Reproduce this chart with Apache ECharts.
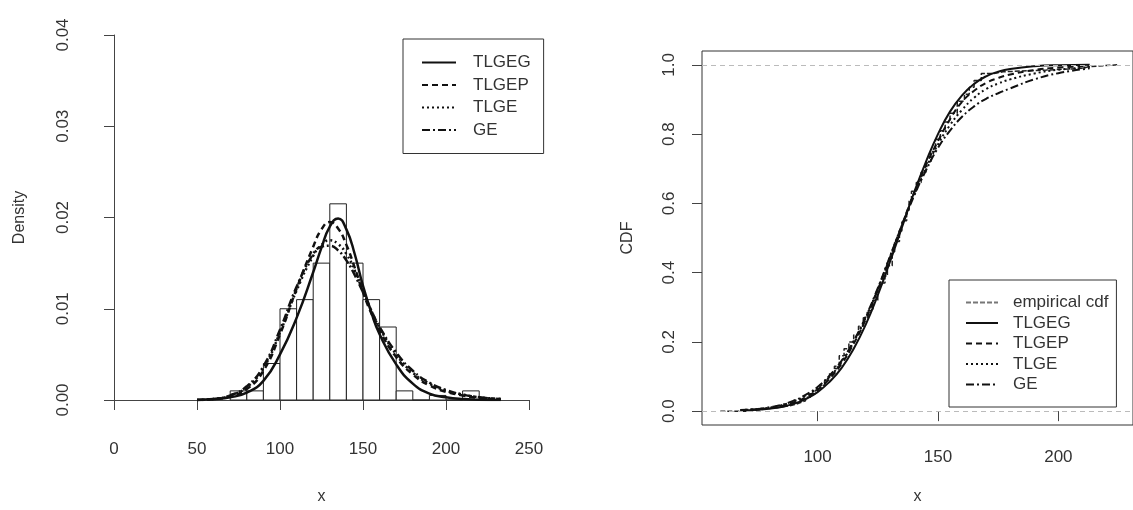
<!DOCTYPE html>
<html>
<head>
<meta charset="utf-8">
<title>density / cdf</title>
<script src="https://cdn.jsdelivr.net/npm/echarts@6/dist/echarts.min.js"></script>
<style>
  html, body { margin: 0; padding: 0; background: #fff; }
  #main { width: 1133px; height: 510px; }
</style>
</head>
<body>
<div id="main"></div>
<script>
// histogram: bin edges and density of each bin
var histBreaks = [70, 80, 90, 100, 110, 120, 130, 140, 150, 160, 170, 180, 190, 200, 210, 220];
var histDensity = [0.001, 0.001, 0.004, 0.010, 0.011, 0.015, 0.0215, 0.015, 0.011, 0.008, 0.001, 0, 0.0005, 0, 0.001];

// fitted densities (left panel)
var densX = [50, 60, 70, 80, 90, 100, 110, 120, 125, 130, 135, 140, 145, 150, 155, 160, 170, 180, 190, 200, 210, 220, 233];
var densTLGEG = [0, 0.0001, 0.0003, 0.0008, 0.0021, 0.0050, 0.0090, 0.0140, 0.0167, 0.0190, 0.0199, 0.0187, 0.0160, 0.0125, 0.0096, 0.0072, 0.0039, 0.0018, 0.0007, 0.0003, 0.0001, 0.00003, 0];
var densTLGEP = [0, 0.0001, 0.0004, 0.0012, 0.0032, 0.0072, 0.0122, 0.0168, 0.0187, 0.0195, 0.0188, 0.0170, 0.0145, 0.0118, 0.0095, 0.0076, 0.0047, 0.0028, 0.0016, 0.0009, 0.0005, 0.0002, 0.0001];
var densTLGE = [0, 0.0001, 0.0005, 0.0014, 0.0035, 0.0074, 0.0120, 0.0158, 0.0170, 0.0175, 0.0171, 0.0160, 0.0142, 0.0120, 0.0098, 0.0079, 0.0050, 0.0030, 0.0018, 0.0010, 0.0006, 0.0003, 0.0001];
var densGE = [0, 0.0001, 0.0005, 0.0015, 0.0037, 0.0077, 0.0124, 0.0160, 0.0168, 0.0169, 0.0164, 0.0153, 0.0137, 0.0118, 0.0098, 0.0080, 0.0052, 0.0032, 0.0019, 0.0011, 0.0006, 0.0003, 0.0001];

// empirical cdf steps (right panel)
var ecdfX = [59.6, 71, 77, 83, 88, 91, 93, 95, 97, 99, 101, 103, 105, 107, 109, 111, 113, 115, 117, 119, 121, 123, 125, 126, 128, 129, 131, 132, 134, 135, 137, 138, 139, 141, 143, 145, 147, 149, 151, 153, 155, 158, 161, 163, 165, 168, 173, 177, 195, 210, 213, 224.4];
var ecdfY = [0, 0.005, 0.01, 0.015, 0.02, 0.025, 0.03, 0.04, 0.05, 0.06, 0.075, 0.09, 0.11, 0.13, 0.16, 0.18, 0.2, 0.22, 0.245, 0.27, 0.29, 0.32, 0.35, 0.37, 0.39, 0.42, 0.46, 0.49, 0.52, 0.55, 0.58, 0.61, 0.635, 0.66, 0.69, 0.72, 0.75, 0.785, 0.81, 0.835, 0.86, 0.895, 0.915, 0.935, 0.955, 0.975, 0.98, 0.985, 0.99, 0.995, 1.0, 1.0];

// fitted cdfs (right panel)
var cdfX = [68, 75, 80, 85, 90, 95, 100, 105, 110, 115, 120, 125, 130, 135, 140, 145, 150, 155, 160, 165, 170, 175, 180, 190, 200, 213];
var cdfTLGEG = [0.002, 0.004, 0.007, 0.012, 0.021, 0.035, 0.055, 0.085, 0.125, 0.18, 0.25, 0.335, 0.43, 0.53, 0.63, 0.72, 0.80, 0.865, 0.912, 0.945, 0.967, 0.98, 0.988, 0.996, 0.999, 1.0];
var cdfTLGEP = [0.003, 0.006, 0.009, 0.015, 0.025, 0.04, 0.062, 0.094, 0.137, 0.195, 0.265, 0.35, 0.443, 0.537, 0.628, 0.71, 0.78, 0.843, 0.893, 0.925, 0.948, 0.962, 0.972, 0.985, 0.992, 0.996];
var cdfTLGE = [0.003, 0.006, 0.01, 0.017, 0.028, 0.044, 0.067, 0.099, 0.142, 0.2, 0.27, 0.353, 0.445, 0.537, 0.625, 0.703, 0.77, 0.826, 0.87, 0.905, 0.93, 0.946, 0.958, 0.975, 0.986, 0.993];
var cdfGE = [0.003, 0.006, 0.011, 0.018, 0.03, 0.047, 0.07, 0.103, 0.146, 0.203, 0.273, 0.355, 0.445, 0.535, 0.62, 0.695, 0.76, 0.81, 0.85, 0.88, 0.902, 0.918, 0.932, 0.958, 0.976, 0.99];

// tick labels
var densXTicks = [0, 50, 100, 150, 200, 250];
var densYTicks = [0, 0.01, 0.02, 0.03, 0.04];
var cdfXTicks = [100, 150, 200];
var cdfYTicks = [0, 0.2, 0.4, 0.6, 0.8, 1.0];

var FONT = 'Liberation Sans, Arial, Helvetica, sans-serif';
var AX = '#444';
var TXT = '#333';

function pairs(xs, ys) {
    var out = [];
    for (var i = 0; i < xs.length; i++) out.push([xs[i], ys[i]]);
    return out;
}

function histData() {
    var out = [];
    for (var i = 0; i < histDensity.length; i++) {
        out.push([histBreaks[i], histBreaks[i + 1], histDensity[i]]);
    }
    return out;
}

// each bin drawn as a rect from the axis scales
function renderBin(params, api) {
    var p0 = api.coord([api.value(0), api.value(2)]);
    var p1 = api.coord([api.value(1), 0]);
    return {
        type: 'rect',
        shape: { x: p0[0], y: p0[1], width: p1[0] - p0[0], height: p1[1] - p0[1] },
        style: { fill: '#fff', stroke: '#222', lineWidth: 1 }
    };
}

function lineSeries(name, data, dash, width, xi, yi, smooth, color) {
    return {
        name: name,
        type: 'line',
        xAxisIndex: xi,
        yAxisIndex: yi,
        data: data,
        smooth: smooth,
        showSymbol: false,
        symbol: 'circle',
        silent: true,
        lineStyle: { color: color || '#111', width: width, type: dash },
        itemStyle: { color: color || '#111' },
        z: 3
    };
}

var dashes = ['solid', [6, 4], [2, 3], [8, 3, 2, 3]];

var axisText = { color: TXT, fontSize: 17, fontFamily: FONT };
var nameText = { color: TXT, fontSize: 16, fontFamily: FONT };

var option = {
    animation: false,
    backgroundColor: '#fff',
    textStyle: { fontFamily: FONT },
    grid: [
        { left: 114, top: 35, width: 415, height: 369, show: false },
        { left: 702, top: 51, width: 444, height: 377, show: true, borderColor: '#333', borderWidth: 1, backgroundColor: 'transparent' }
    ],
    xAxis: [
        {
            type: 'value', gridIndex: 0, min: 0, max: 250, interval: 50, offset: 17,
            axisLine: { show: true, lineStyle: { color: AX, width: 1 } },
            axisTick: { show: true, inside: false, length: 10, lineStyle: { color: AX } },
            axisLabel: Object.assign({ margin: 24, customValues: densXTicks }, axisText),
            splitLine: { show: false },
            name: 'x', nameLocation: 'middle', nameGap: 72,
            nameTextStyle: nameText
        },
        {
            type: 'value', gridIndex: 1, min: 52, max: 231,
            axisLine: { show: false },
            axisTick: { show: true, inside: false, length: 10, customValues: cdfXTicks, lineStyle: { color: AX } },
            axisLabel: Object.assign({ margin: 24, customValues: cdfXTicks }, axisText),
            splitLine: { show: false },
            name: 'x', nameLocation: 'middle', nameGap: 64,
            nameTextStyle: nameText
        }
    ],
    yAxis: [
        {
            type: 'value', gridIndex: 0, min: 0, max: 0.04, interval: 0.01, offset: 18,
            axisLine: { show: true, lineStyle: { color: AX, width: 1 } },
            axisTick: { show: true, inside: false, length: 10, lineStyle: { color: AX } },
            axisLabel: Object.assign({
                margin: 24, rotate: 90, customValues: densYTicks,
                formatter: function (v) { return v.toFixed(2); }
            }, axisText),
            splitLine: { show: false },
            name: 'Density', nameLocation: 'middle', nameGap: 68, nameRotate: 90,
            nameTextStyle: nameText
        },
        {
            type: 'value', gridIndex: 1, min: -0.04, max: 1.04,
            axisLine: { show: false },
            axisTick: { show: true, inside: false, length: 10, customValues: cdfYTicks, lineStyle: { color: AX } },
            axisLabel: Object.assign({
                margin: 24, rotate: 90, customValues: cdfYTicks,
                formatter: function (v) { return v.toFixed(1); }
            }, axisText),
            splitLine: { show: false },
            name: 'CDF', nameLocation: 'middle', nameGap: 66, nameRotate: 90,
            nameTextStyle: nameText
        }
    ],
    legend: [
        {
            data: ['TLGEG', 'TLGEP', 'TLGE', 'GE'],
            orient: 'vertical', left: 403, top: 39,
            padding: [15, 13, 15, 18],
            itemWidth: 34, itemHeight: 14, itemGap: 5.5,
            borderColor: '#333', borderWidth: 1,
            itemStyle: { opacity: 0 },
            textStyle: { color: TXT, fontSize: 17, fontFamily: FONT, padding: [0, 0, 0, 12] },
            selectedMode: false
        },
        {
            data: [
                { name: 'empirical cdf', lineStyle: { color: '#777' } },
                'cdf:TLGEG', 'cdf:TLGEP', 'cdf:TLGE', 'cdf:GE'
            ],
            orient: 'vertical', left: 949, top: 280,
            padding: [14, 8, 14, 16],
            itemWidth: 32, itemHeight: 14, itemGap: 3.5,
            borderColor: '#333', borderWidth: 1,
            itemStyle: { opacity: 0 },
            formatter: function (name) { return name.replace('cdf:', ''); },
            textStyle: { color: TXT, fontSize: 17, fontFamily: FONT, padding: [0, 0, 0, 10] },
            selectedMode: false
        }
    ],
    series: [
        {
            name: 'hist', type: 'custom', xAxisIndex: 0, yAxisIndex: 0,
            renderItem: renderBin, data: histData(),
            encode: { x: [0, 1], y: 2 }, silent: true, z: 1
        },
        lineSeries('TLGEG', pairs(densX, densTLGEG), dashes[0], 2.5, 0, 0, true),
        lineSeries('TLGEP', pairs(densX, densTLGEP), dashes[1], 2.5, 0, 0, true),
        lineSeries('TLGE', pairs(densX, densTLGE), dashes[2], 2.5, 0, 0, true),
        lineSeries('GE', pairs(densX, densGE), dashes[3], 2.5, 0, 0, true),
        (function () {
            var s = lineSeries('empirical cdf', pairs(ecdfX, ecdfY), [5, 2], 1.5, 1, 1, false, '#222');
            s.step = 'end';
            // grey reference lines at 0 and 1
            s.markLine = {
                silent: true, symbol: 'none', label: { show: false },
                lineStyle: { color: '#bbb', type: [5, 4], width: 1.2 },
                data: [{ yAxis: 0 }, { yAxis: 1 }]
            };
            return s;
        })(),
        lineSeries('cdf:TLGEG', pairs(cdfX, cdfTLGEG), dashes[0], 2, 1, 1, true),
        lineSeries('cdf:TLGEP', pairs(cdfX, cdfTLGEP), dashes[1], 2, 1, 1, true),
        lineSeries('cdf:TLGE', pairs(cdfX, cdfTLGE), dashes[2], 2, 1, 1, true),
        lineSeries('cdf:GE', pairs(cdfX, cdfGE), dashes[3], 2, 1, 1, true)
    ]
};

var myChart = echarts.init(document.getElementById('main'), null, { renderer: 'canvas' });
myChart.setOption(option);
</script>
</body>
</html>
